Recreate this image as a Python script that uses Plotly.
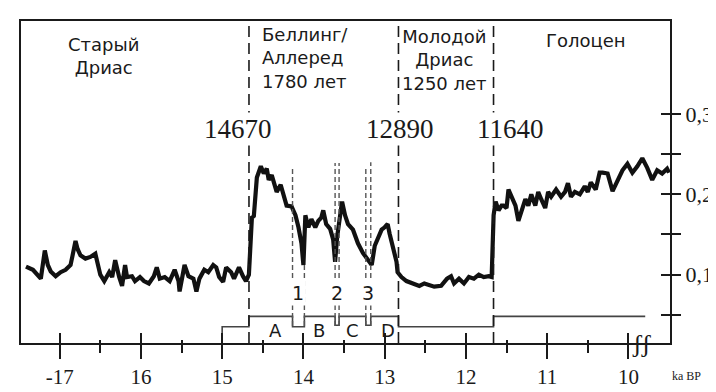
import plotly.graph_objects as go

# ice-core record, age in thousand years BP
age = [17.415, 17.329, 17.232, 17.183, 17.146, 17.110, 17.049, 16.988, 16.927, 16.866,
       16.841, 16.805, 16.780, 16.744, 16.683, 16.622, 16.561, 16.537, 16.500, 16.451,
       16.390, 16.354, 16.317, 16.268, 16.232, 16.195, 16.171, 16.110, 16.073, 16.012,
       15.963, 15.902, 15.841, 15.805, 15.768, 15.707, 15.646, 15.585, 15.537, 15.524,
       15.463, 15.415, 15.354, 15.317, 15.280, 15.220, 15.171, 15.110, 15.073, 15.037,
       14.988, 14.951, 14.890, 14.854, 14.793, 14.744, 14.707, 14.671, 14.646, 14.634,
       14.610, 14.585, 14.573, 14.524, 14.488, 14.451, 14.427, 14.390, 14.341, 14.329,
       14.280, 14.244, 14.207, 14.146, 14.098, 14.061, 14.024, 14.000, 13.976, 13.939,
       13.902, 13.854, 13.817, 13.780, 13.756, 13.720, 13.671, 13.634, 13.610, 13.585,
       13.524, 13.488, 13.451, 13.390, 13.329, 13.268, 13.207, 13.159, 13.122, 13.085,
       13.037, 13.000, 12.963, 12.939, 12.902, 12.854, 12.841, 12.793, 12.732, 12.659,
       12.573, 12.512, 12.390, 12.305, 12.232, 12.183, 12.146, 12.085, 12.024, 11.963,
       11.902, 11.841, 11.780, 11.720, 11.683, 11.659, 11.634, 11.598, 11.561, 11.537,
       11.500, 11.476, 11.439, 11.390, 11.354, 11.317, 11.268, 11.232, 11.195, 11.146,
       11.110, 11.073, 11.024, 10.988, 10.951, 10.890, 10.829, 10.780, 10.744, 10.707,
       10.659, 10.598, 10.537, 10.500, 10.463, 10.402, 10.354, 10.317, 10.256, 10.195,
       10.134, 10.073, 10.012, 9.951, 9.890, 9.829, 9.768, 9.707, 9.646, 9.585,
       9.524, 9.500]
signal = [0.110, 0.106, 0.095, 0.130, 0.112, 0.104, 0.098, 0.103, 0.106, 0.112,
          0.124, 0.142, 0.132, 0.124, 0.120, 0.122, 0.126, 0.116, 0.100, 0.092,
          0.103, 0.097, 0.118, 0.097, 0.086, 0.112, 0.097, 0.098, 0.092, 0.097,
          0.092, 0.089, 0.098, 0.109, 0.095, 0.097, 0.092, 0.106, 0.092, 0.079,
          0.112, 0.098, 0.095, 0.079, 0.095, 0.106, 0.103, 0.112, 0.109, 0.097,
          0.091, 0.109, 0.103, 0.095, 0.109, 0.098, 0.092, 0.100, 0.139, 0.171,
          0.173, 0.203, 0.221, 0.235, 0.226, 0.232, 0.218, 0.224, 0.210, 0.203,
          0.212, 0.197, 0.186, 0.185, 0.174, 0.159, 0.139, 0.112, 0.174, 0.159,
          0.169, 0.159, 0.167, 0.171, 0.180, 0.163, 0.157, 0.144, 0.116, 0.147,
          0.191, 0.174, 0.163, 0.156, 0.139, 0.127, 0.118, 0.112, 0.136, 0.144,
          0.156, 0.159, 0.163, 0.151, 0.136, 0.116, 0.103, 0.097, 0.092, 0.089,
          0.086, 0.089, 0.085, 0.086, 0.095, 0.098, 0.089, 0.095, 0.089, 0.097,
          0.095, 0.100, 0.097, 0.098, 0.097, 0.174, 0.191, 0.180, 0.186, 0.186,
          0.183, 0.206, 0.197, 0.186, 0.167, 0.179, 0.194, 0.186, 0.200, 0.186,
          0.203, 0.194, 0.183, 0.203, 0.197, 0.206, 0.197, 0.203, 0.214, 0.197,
          0.203, 0.200, 0.210, 0.203, 0.215, 0.206, 0.227, 0.227, 0.226, 0.204,
          0.218, 0.230, 0.238, 0.227, 0.235, 0.245, 0.233, 0.218, 0.230, 0.226,
          0.232, 0.227]

# stratigraphy steps (A, B, C, D) under the curve
step_age = [15.0, 15.0, 14.671, 14.671, 14.134, 14.134, 13.988, 13.988, 13.61, 13.61,
            13.561, 13.561, 13.232, 13.232, 13.171, 13.171, 12.83, 12.83, 11.66, 11.66, 9.793]
step_val = [0.0148, 0.035, 0.035, 0.048, 0.048, 0.035, 0.035, 0.048, 0.048, 0.037,
            0.037, 0.048, 0.048, 0.037, 0.037, 0.048, 0.048, 0.035, 0.035, 0.048, 0.048]

boundary_age = [14.67, 12.83, 11.66]
boundary_label = ['14670', '12890', '11640']
boundary_label_age = [14.805, 12.817, 11.451]

event_age = [14.134, 13.988, 13.61, 13.561, 13.232, 13.171]
event_top = [0.235, 0.112, 0.239, 0.239, 0.235, 0.24]

xticks = [17, 16, 15, 14, 13, 12, 11, 10]
xtick_text = ['-17', '16', '15', '14', '13', '12', '11', '10']
xminor = [16.5, 15.5, 14.5, 13.5, 12.5, 11.5, 10.5]
yticks = [0.05, 0.1, 0.15, 0.2, 0.25, 0.3]
ytick_text = ['', '0,1', '', '0,2', '', '0,3']

XR = [17.476, 9.488]
YR = [0.0148, 0.416]
INK = '#1a1a1a'
SANS = 'DejaVu Sans'
SERIF = 'Liberation Serif'

fig = go.Figure()
fig.add_trace(go.Scatter(x=age, y=signal, mode='lines',
                         line=dict(color='#111', width=4.2), hoverinfo='skip'))
fig.add_trace(go.Scatter(x=step_age, y=step_val, mode='lines',
                         line=dict(color='#444', width=1.6), hoverinfo='skip'))
# invisible point so the overlay axes (inner tick halves) get drawn
fig.add_trace(go.Scatter(x=[15], y=[0.2], xaxis='x2', yaxis='y2', mode='markers',
                         marker=dict(opacity=0), hoverinfo='skip'))

shapes = []
for a in boundary_age:
    shapes.append(dict(type='line', xref='x', yref='y', x0=a, x1=a, y0=YR[0], y1=YR[1],
                       line=dict(color=INK, width=1.6, dash='11px,6px')))
for a, top in zip(event_age, event_top):
    shapes.append(dict(type='line', xref='x', yref='y', x0=a, x1=a, y0=0.036, y1=top,
                       line=dict(color='#555', width=1.4, dash='5px,3px')))

annotations = []


def txt(text, x, y, size=18, font=SANS, xanchor='center', bg=None, **kw):
    d = dict(text=text, x=x, y=y, xref='x', yref='y', showarrow=False, xanchor=xanchor,
             yanchor='middle', align=xanchor if xanchor != 'center' else 'center',
             font=dict(family=font, size=size, color=INK))
    if bg:
        d['bgcolor'] = bg
    d.update(kw)
    annotations.append(d)


txt('Старый<br>Дриас', 16.46, 0.373)
txt('Беллинг/<br>Аллеред<br>1780 лет', 14.53, 0.370, xanchor='left')
txt('Молодой<br>Дриас<br>1250 лет', 12.268, 0.368)
txt('Голоцен', 10.524, 0.392)
for lab, a in zip(boundary_label, boundary_label_age):
    txt(lab, a, 0.282, size=27, font=SERIF, bg='white')
for lab, a in zip(['1', '2', '3'], [14.061, 13.585, 13.207]):
    txt(lab, a, 0.077, size=19, bg='white')
for lab, a in zip(['A', 'B', 'C', 'D'], [14.341, 13.805, 13.402, 12.963]):
    txt(lab, a, 0.031, size=18)
txt('ʃʃ', 9.83, 0.0148, size=26, font=SERIF)
annotations.append(dict(text='ka BP', x=1.0, y=-0.075, xref='paper', yref='paper',
                        showarrow=False, xanchor='left', yanchor='top',
                        font=dict(family=SERIF, size=12, color=INK)))

fig.update_layout(
    width=716, height=392,
    margin=dict(l=13, r=48, t=11, b=39),
    paper_bgcolor='white', plot_bgcolor='white',
    showlegend=False,
    shapes=shapes, annotations=annotations,
    xaxis=dict(range=XR, tickmode='array', tickvals=xticks, ticktext=xtick_text,
               ticks='outside', ticklen=14, tickwidth=2, tickcolor=INK,
               minor=dict(tickmode='array', tickvals=xminor, ticks='outside', ticklen=8,
                          tickwidth=2, tickcolor=INK),
               showline=True, linewidth=2, linecolor=INK, mirror=True,
               showgrid=False, zeroline=False,
               tickfont=dict(family=SERIF, size=21, color=INK)),
    xaxis2=dict(range=XR, overlaying='x', side='bottom', anchor='y',
                tickmode='array', tickvals=xticks, ticks='inside', ticklen=10,
                tickwidth=2, tickcolor=INK,
                minor=dict(tickmode='array', tickvals=xminor, ticks='inside', ticklen=3,
                           tickwidth=2, tickcolor=INK),
                showticklabels=False, showgrid=False, zeroline=False, showline=False),
    yaxis=dict(range=YR, side='right', tickmode='array', tickvals=yticks,
               ticktext=ytick_text, ticks='outside', ticklen=9, tickwidth=2,
               tickcolor=INK, showline=True, linewidth=2, linecolor=INK, mirror=True,
               showgrid=False, zeroline=False,
               tickfont=dict(family=SERIF, size=22, color=INK)),
    yaxis2=dict(range=YR, overlaying='y', side='right', anchor='x',
                tickmode='array', tickvals=yticks, ticks='inside', ticklen=9,
                tickwidth=2, tickcolor=INK, showticklabels=False,
                showgrid=False, zeroline=False, showline=False),
)

fig.write_html('out.html')
